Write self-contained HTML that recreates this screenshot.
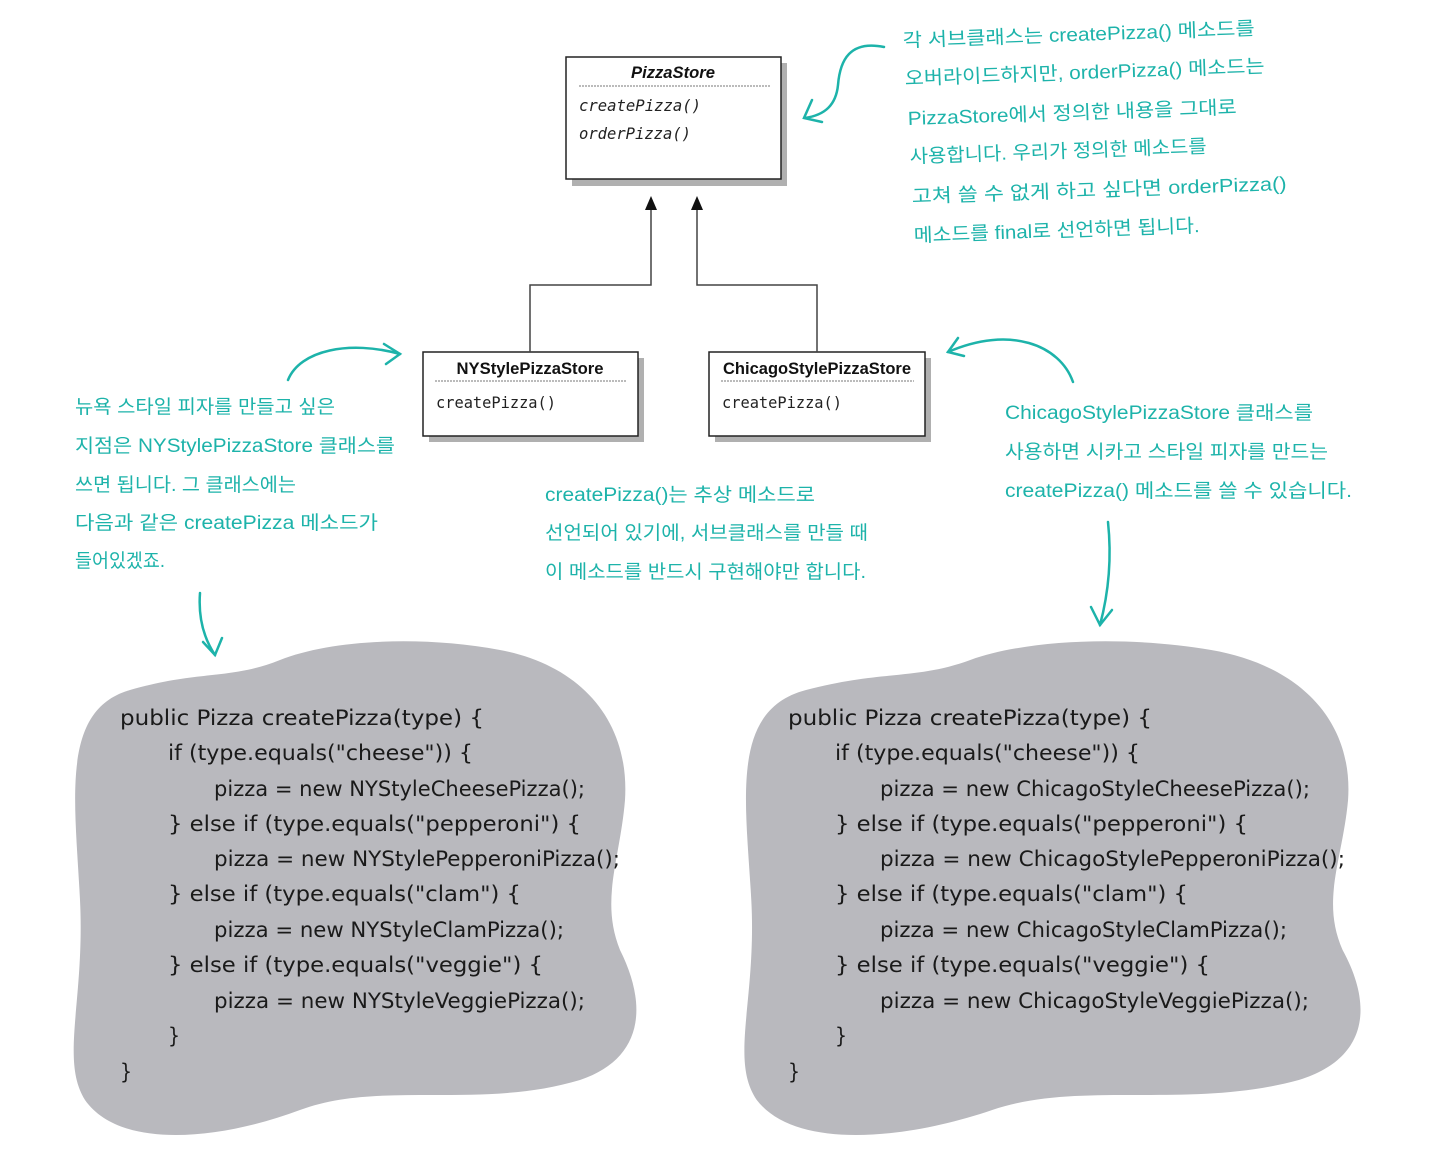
<!DOCTYPE html>
<html><head><meta charset="utf-8"><style>
html,body{margin:0;padding:0;background:#fff;}
svg{display:block;}
.an{font-family:"Liberation Sans","Noto Sans CJK KR",sans-serif;font-size:19px;fill:#1db3aa;}
.code{font-family:"DejaVu Sans Condensed","Liberation Sans Narrow","Liberation Sans",sans-serif;font-size:21px;fill:#1a1a1a;}
.t{font-family:"Liberation Sans",sans-serif;font-weight:bold;font-size:17px;fill:#111;}
.m{font-family:"DejaVu Sans Mono","Liberation Mono",monospace;font-size:16px;fill:#222;}
</style></head><body>
<svg width="1444" height="1154" viewBox="0 0 1444 1154" xmlns="http://www.w3.org/2000/svg">
<defs>
<path id="blob" d="M130,690 C200,670 230,680 280,660 C330,640 420,635 500,650 C580,665 630,720 625,800 C620,860 600,900 620,950 C650,1010 640,1060 580,1080 C480,1110 380,1080 300,1110 C220,1140 120,1150 85,1100 C60,1060 85,1000 80,900 C75,800 60,710 130,690 Z"/>
</defs>
<use href="#blob" fill="#b9b9be"/>
<g transform="translate(748,0) scale(1.095,1) translate(-77,0)"><use href="#blob" fill="#b9b9be"/></g>

<g fill="#b0b0b0"><rect x="572" y="63" width="215" height="123"/><rect x="429" y="358" width="215" height="84"/><rect x="715" y="358" width="216" height="84"/></g>
<g fill="#fff" stroke="#222" stroke-width="1.5">
<rect x="566" y="57" width="215" height="122"/>
<rect x="423" y="352" width="215" height="84"/>
<rect x="709" y="352" width="216" height="84"/>
</g>
<g stroke="#777" stroke-dasharray="2,1" stroke-width="1">
<line x1="579" y1="86" x2="770" y2="86"/>
<line x1="435" y1="381" x2="626" y2="381"/>
<line x1="721" y1="381" x2="914" y2="381"/>
</g>
<text class="t" x="673" y="78" text-anchor="middle" font-style="italic" textLength="84" lengthAdjust="spacingAndGlyphs">PizzaStore</text>
<text class="m" x="579" y="111" font-style="italic" textLength="122" lengthAdjust="spacingAndGlyphs">createPizza()</text>
<text class="m" x="579" y="139" font-style="italic" textLength="112" lengthAdjust="spacingAndGlyphs">orderPizza()</text>
<text class="t" x="530" y="374" text-anchor="middle" textLength="147" lengthAdjust="spacingAndGlyphs">NYStylePizzaStore</text>
<text class="m" x="436" y="408" textLength="120" lengthAdjust="spacingAndGlyphs">createPizza()</text>
<text class="t" x="817" y="374" text-anchor="middle" textLength="188" lengthAdjust="spacingAndGlyphs">ChicagoStylePizzaStore</text>
<text class="m" x="722" y="408" textLength="120" lengthAdjust="spacingAndGlyphs">createPizza()</text>
<g fill="none" stroke="#444" stroke-width="1.5">
<polyline points="651,208 651,285 530,285 530,352"/>
<polyline points="697,208 697,285 817,285 817,352"/>
</g>
<polygon points="651,196 645,210 657,210" fill="#111"/>
<polygon points="697,196 691,210 703,210" fill="#111"/>

<g fill="none" stroke="#1db3aa" stroke-width="2.5" stroke-linecap="round">
<path d="M884,47 C850,40 840,60 838,85 C836,105 825,115 805,118"/>
<path d="M812,100 L804,118 L822,122"/>
<path d="M288,380 C300,350 350,340 400,354"/>
<path d="M384,344 L400,354 L386,364"/>
<path d="M1073,382 C1060,345 1010,325 948,352"/>
<path d="M958,338 L948,352 L964,356"/>
<path d="M200,593 C198,620 205,640 215,655"/>
<path d="M203,642 L215,655 L222,638"/>
<path d="M1108,522 C1112,560 1108,595 1100,625"/>
<path d="M1091,607 L1100,625 L1112,610"/>
</g>

<g class="an">
<text x="903" y="47" textLength="352" lengthAdjust="spacingAndGlyphs" transform="rotate(-2 903 47)">각 서브클래스는 createPizza() 메소드를</text>
<text x="905" y="85" textLength="360" lengthAdjust="spacingAndGlyphs" transform="rotate(-2 905 85)">오버라이드하지만, orderPizza() 메소드는</text>
<text x="908" y="125" textLength="329" lengthAdjust="spacingAndGlyphs" transform="rotate(-2 908 125)">PizzaStore에서 정의한 내용을 그대로</text>
<text x="910" y="163" textLength="297" lengthAdjust="spacingAndGlyphs" transform="rotate(-2 910 163)">사용합니다. 우리가 정의한 메소드를</text>
<text x="912" y="203" textLength="375" lengthAdjust="spacingAndGlyphs" transform="rotate(-2 912 203)">고쳐 쓸 수 없게 하고 싶다면 orderPizza()</text>
<text x="914" y="242" textLength="286" lengthAdjust="spacingAndGlyphs" transform="rotate(-2 914 242)">메소드를 final로 선언하면 됩니다.</text>

<text x="75" y="413" textLength="260" lengthAdjust="spacingAndGlyphs">뉴욕 스타일 피자를 만들고 싶은</text>
<text x="75" y="452" textLength="320" lengthAdjust="spacingAndGlyphs">지점은 NYStylePizzaStore 클래스를</text>
<text x="75" y="491" textLength="221" lengthAdjust="spacingAndGlyphs">쓰면 됩니다. 그 클래스에는</text>
<text x="75" y="529" textLength="303" lengthAdjust="spacingAndGlyphs">다음과 같은 createPizza 메소드가</text>
<text x="75" y="567" textLength="90" lengthAdjust="spacingAndGlyphs">들어있겠죠.</text>

<text x="545" y="501" textLength="270" lengthAdjust="spacingAndGlyphs">createPizza()는 추상 메소드로</text>
<text x="545" y="539" textLength="323" lengthAdjust="spacingAndGlyphs">선언되어 있기에, 서브클래스를 만들 때</text>
<text x="545" y="578" textLength="321" lengthAdjust="spacingAndGlyphs">이 메소드를 반드시 구현해야만 합니다.</text>

<text x="1005" y="419" textLength="308" lengthAdjust="spacingAndGlyphs">ChicagoStylePizzaStore 클래스를</text>
<text x="1005" y="458" textLength="323" lengthAdjust="spacingAndGlyphs">사용하면 시카고 스타일 피자를 만드는</text>
<text x="1005" y="497" textLength="347" lengthAdjust="spacingAndGlyphs">createPizza() 메소드를 쓸 수 있습니다.</text>
</g>

<g class="code">
<text x="120" y="725" textLength="364" lengthAdjust="spacingAndGlyphs">public Pizza createPizza(type) {</text>
<text x="168" y="760" textLength="305" lengthAdjust="spacingAndGlyphs">if (type.equals("cheese")) {</text>
<text x="214" y="796" textLength="371" lengthAdjust="spacingAndGlyphs">pizza = new NYStyleCheesePizza();</text>
<text x="168" y="831" textLength="413" lengthAdjust="spacingAndGlyphs">} else if (type.equals("pepperoni") {</text>
<text x="214" y="866" textLength="406" lengthAdjust="spacingAndGlyphs">pizza = new NYStylePepperoniPizza();</text>
<text x="168" y="901" textLength="353" lengthAdjust="spacingAndGlyphs">} else if (type.equals("clam") {</text>
<text x="214" y="937" textLength="350" lengthAdjust="spacingAndGlyphs">pizza = new NYStyleClamPizza();</text>
<text x="168" y="972" textLength="375" lengthAdjust="spacingAndGlyphs">} else if (type.equals("veggie") {</text>
<text x="214" y="1008" textLength="371" lengthAdjust="spacingAndGlyphs">pizza = new NYStyleVeggiePizza();</text>
<text x="168" y="1043">}</text>
<text x="120" y="1079">}</text>
</g>
<g class="code">
<text x="788" y="725" textLength="364" lengthAdjust="spacingAndGlyphs">public Pizza createPizza(type) {</text>
<text x="835" y="760" textLength="305" lengthAdjust="spacingAndGlyphs">if (type.equals("cheese")) {</text>
<text x="880" y="796" textLength="430" lengthAdjust="spacingAndGlyphs">pizza = new ChicagoStyleCheesePizza();</text>
<text x="835" y="831" textLength="413" lengthAdjust="spacingAndGlyphs">} else if (type.equals("pepperoni") {</text>
<text x="880" y="866" textLength="465" lengthAdjust="spacingAndGlyphs">pizza = new ChicagoStylePepperoniPizza();</text>
<text x="835" y="901" textLength="353" lengthAdjust="spacingAndGlyphs">} else if (type.equals("clam") {</text>
<text x="880" y="937" textLength="407" lengthAdjust="spacingAndGlyphs">pizza = new ChicagoStyleClamPizza();</text>
<text x="835" y="972" textLength="375" lengthAdjust="spacingAndGlyphs">} else if (type.equals("veggie") {</text>
<text x="880" y="1008" textLength="429" lengthAdjust="spacingAndGlyphs">pizza = new ChicagoStyleVeggiePizza();</text>
<text x="835" y="1043">}</text>
<text x="788" y="1079">}</text>
</g>
</svg>
</body></html>
